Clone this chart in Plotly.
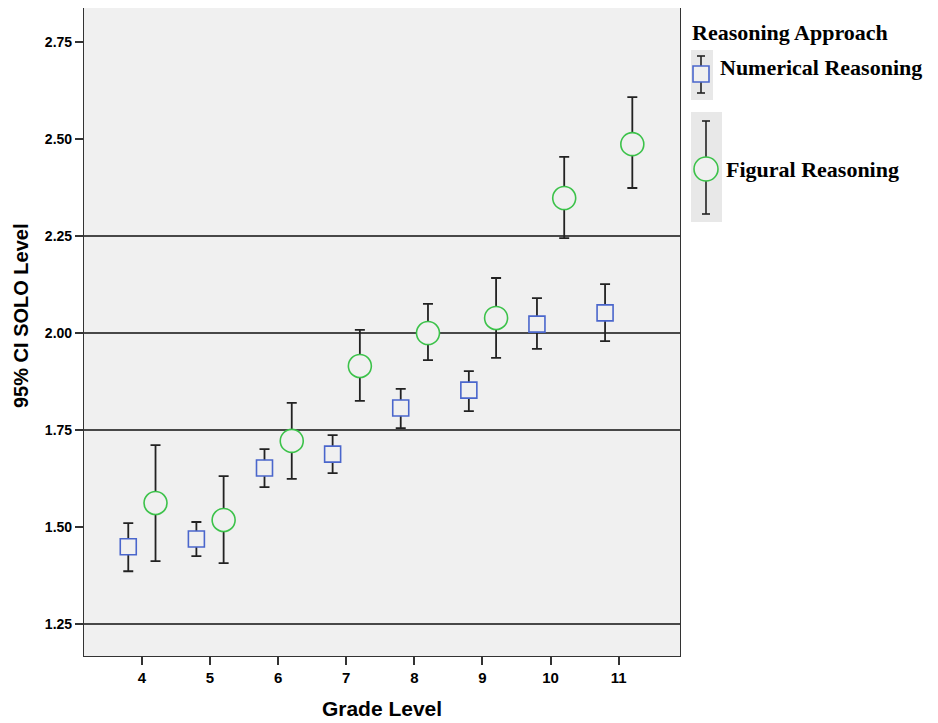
import plotly.graph_objects as go

grades = [4, 5, 6, 7, 8, 9, 10, 11]
offset = 0.2

num_mean = [1.449, 1.469, 1.652, 1.688, 1.807, 1.853, 2.023, 2.052]
num_upper = [1.510, 1.513, 1.701, 1.737, 1.856, 1.902, 2.090, 2.126]
num_lower = [1.386, 1.425, 1.603, 1.639, 1.755, 1.799, 1.959, 1.979]

fig_mean = [1.562, 1.518, 1.722, 1.915, 2.000, 2.039, 2.348, 2.487]
fig_upper = [1.711, 1.631, 1.820, 2.008, 2.075, 2.142, 2.454, 2.608]
fig_lower = [1.412, 1.407, 1.624, 1.825, 1.930, 1.936, 2.245, 2.374]

ref_lines = [1.25, 1.75, 2.00, 2.25]
y_ticks = [1.25, 1.50, 1.75, 2.00, 2.25, 2.50, 2.75]

BLUE = "#4a66cc"
GREEN = "#3cc24a"
BG = "#f0f0f0"

fig = go.Figure()

fig.add_trace(go.Scatter(
    x=[g - offset for g in grades], y=num_mean, mode="markers",
    name="Numerical Reasoning",
    marker=dict(symbol="square", size=16, color=BG, line=dict(color=BLUE, width=1.6)),
    error_y=dict(type="data", symmetric=False,
                 array=[u - m for u, m in zip(num_upper, num_mean)],
                 arrayminus=[m - l for m, l in zip(num_mean, num_lower)],
                 color="#222222", thickness=1.8, width=5),
    showlegend=False,
))
fig.add_trace(go.Scatter(
    x=[g + offset for g in grades], y=fig_mean, mode="markers",
    name="Figural Reasoning",
    marker=dict(symbol="circle", size=23, color=BG, line=dict(color=GREEN, width=1.6)),
    error_y=dict(type="data", symmetric=False,
                 array=[u - m for u, m in zip(fig_upper, fig_mean)],
                 arrayminus=[m - l for m, l in zip(fig_mean, fig_lower)],
                 color="#222222", thickness=1.8, width=5),
    showlegend=False,
))

shapes = []
for r in ref_lines:
    shapes.append(dict(type="line", xref="paper", yref="y", x0=0, x1=1, y0=r, y1=r,
                       line=dict(color="#111111", width=1.5), layer="below"))

# manual legend (paper coords; plot area spans 84..680 px, 8..656 px on the page)
W, H = 596.0, 648.0
def px(x):
    return (x - 84) / W
def py(y):
    return (656 - y) / H

legend_shapes = [
    dict(type="rect", x0=px(691), x1=px(713), y0=py(50), y1=py(100)),
    dict(type="rect", x0=px(691), x1=px(722), y0=py(112), y1=py(222)),
]
for s in legend_shapes:
    s.update(xref="paper", yref="paper", fillcolor="#e8e8e8", line=dict(width=0), layer="below")
    shapes.append(s)

line_k = dict(color="#222222", width=1.6)
shapes += [
    dict(type="line", xref="paper", yref="paper", x0=px(701), x1=px(701), y0=py(56), y1=py(93), line=line_k),
    dict(type="line", xref="paper", yref="paper", x0=px(697), x1=px(705), y0=py(56), y1=py(56), line=line_k),
    dict(type="line", xref="paper", yref="paper", x0=px(697), x1=px(705), y0=py(93), y1=py(93), line=line_k),
    dict(type="rect", xref="paper", yref="paper", x0=px(693), x1=px(709), y0=py(66), y1=py(82),
         fillcolor=BG, line=dict(color=BLUE, width=1.6)),
]
shapes += [
    dict(type="line", xref="paper", yref="paper", x0=px(706), x1=px(706), y0=py(121), y1=py(214), line=line_k),
    dict(type="line", xref="paper", yref="paper", x0=px(702), x1=px(710), y0=py(121), y1=py(121), line=line_k),
    dict(type="line", xref="paper", yref="paper", x0=px(702), x1=px(710), y0=py(214), y1=py(214), line=line_k),
    dict(type="circle", xref="paper", yref="paper", x0=px(694), x1=px(718), y0=py(157), y1=py(181),
         fillcolor=BG, line=dict(color=GREEN, width=1.6)),
]

serif = "Liberation Serif, Times New Roman, serif"
sans = "Liberation Sans, Arial, sans-serif"
annotations = [
    dict(text="<b>Reasoning Approach</b>", x=px(690), y=py(32), xref="paper", yref="paper",
         xanchor="left", yanchor="middle", showarrow=False, font=dict(family=serif, size=22, color="black")),
    dict(text="<b>Numerical Reasoning</b>", x=px(718), y=py(68), xref="paper", yref="paper",
         xanchor="left", yanchor="middle", showarrow=False, font=dict(family=serif, size=22, color="black")),
    dict(text="<b>Figural Reasoning</b>", x=px(724), y=py(169), xref="paper", yref="paper",
         xanchor="left", yanchor="middle", showarrow=False, font=dict(family=serif, size=22, color="black")),
    dict(text="<b>95% CI SOLO Level</b>", x=px(21), y=py(316), xref="paper", yref="paper",
         xanchor="center", yanchor="middle", textangle=-90, showarrow=False,
         font=dict(family=sans, size=20, color="black")),
]

fig.update_layout(
    width=930, height=715,
    margin=dict(l=76, r=258, t=0, b=67),
    paper_bgcolor="white", plot_bgcolor=BG,
    shapes=shapes, annotations=annotations,
    xaxis=dict(range=[3.15, 11.9], tickvals=grades, ticktext=[str(g) for g in grades],
               showgrid=False, zeroline=False, showline=True, linecolor="#333333", linewidth=1.2,
               mirror=True, ticks="outside", ticklen=8, tickwidth=1.5, tickcolor="#333333",
               tickfont=dict(family=sans, size=15, color="black", weight="bold"),
               title=dict(text="<b>Grade Level</b>", font=dict(family=sans, size=21, color="black"), standoff=16)),
    yaxis=dict(range=[1.1675, 2.838], tickvals=y_ticks, ticktext=[f"{v:.2f}" for v in y_ticks],
               showgrid=False, zeroline=False, showline=True, linecolor="#333333", linewidth=1.2,
               mirror=True, ticks="outside", ticklen=8, tickwidth=1.5, tickcolor="#333333",
               tickfont=dict(family=sans, size=14, color="black", weight="bold")),
)

fig.write_html("out.html")
